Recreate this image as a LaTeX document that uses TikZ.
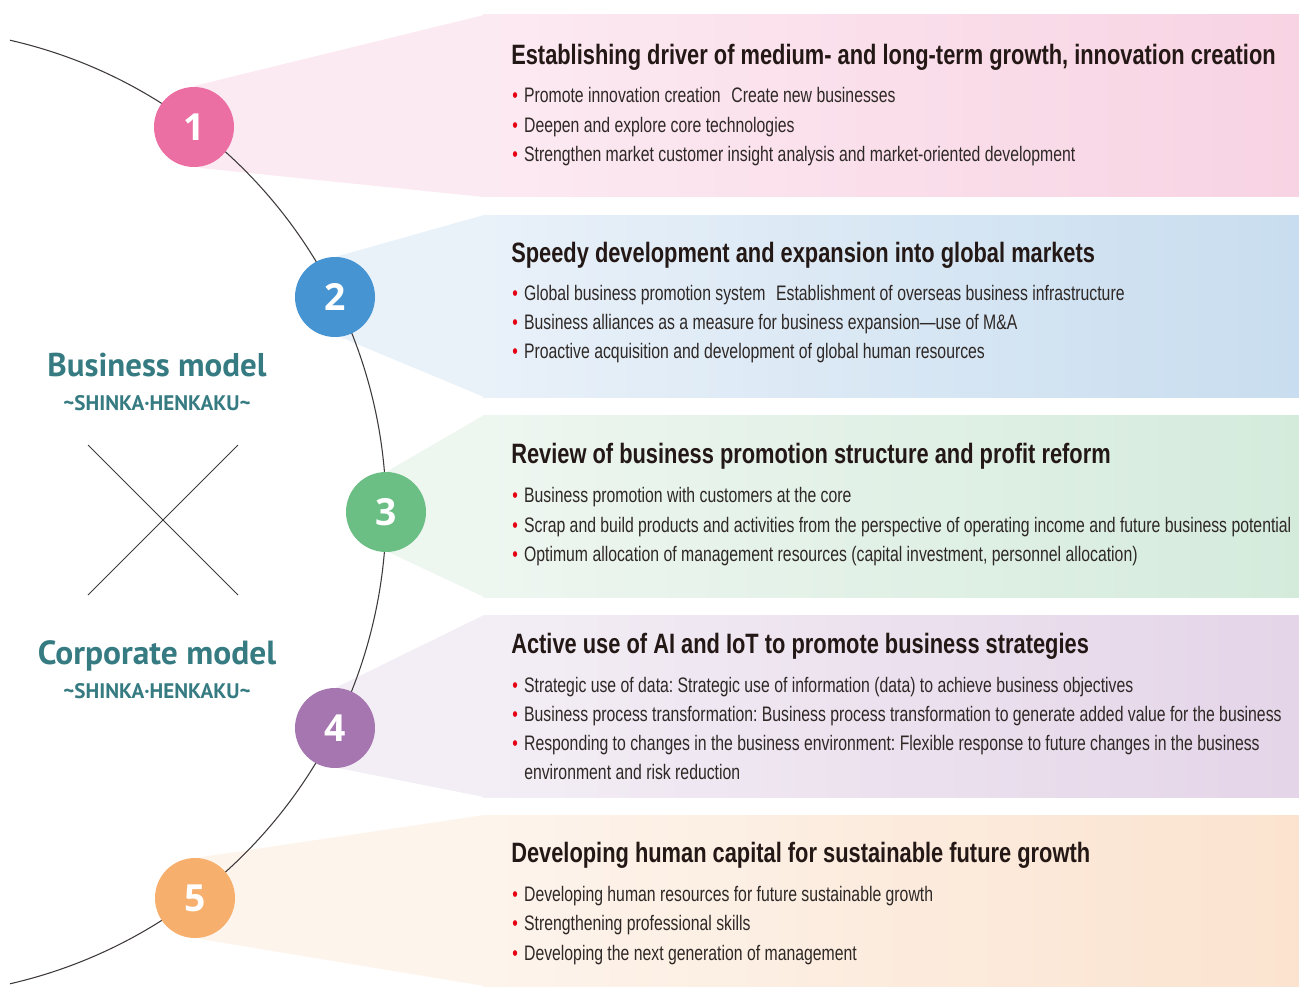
\documentclass[tikz,border=0pt]{standalone}
\usepackage{fontspec}
\setmainfont{Liberation Sans}
\newfontfamily\headfont[FakeStretch=0.78]{Liberation Sans}
\newfontfamily\bodyfont[FakeStretch=0.752]{Liberation Sans}
\newfontfamily\leftfont{PT Sans}
\newfontfamily\numfont{Open Sans}
\frenchspacing
\definecolor{inkc}{HTML}{231815}
\definecolor{bodyc}{HTML}{2E2826}
\definecolor{bulletc}{HTML}{E60012}
\definecolor{tealc}{HTML}{357B81}
\definecolor{arcc}{HTML}{3E3A39}
\definecolor{cA}{HTML}{EC6FA4}
\definecolor{cB}{HTML}{4794D3}
\definecolor{cC}{HTML}{6BBE84}
\definecolor{cD}{HTML}{A576AF}
\definecolor{cE}{HTML}{F6AF6C}
\definecolor{fAl}{HTML}{FCEAF2}\definecolor{fAr}{HTML}{F8D3E3}
\definecolor{fBl}{HTML}{E9F1F9}\definecolor{fBr}{HTML}{C8DDEF}
\definecolor{fCl}{HTML}{EEF6F0}\definecolor{fCr}{HTML}{D4EBDC}
\definecolor{fDl}{HTML}{F3EEF5}\definecolor{fDr}{HTML}{E4D5E8}
\definecolor{fEl}{HTML}{FDF4EC}\definecolor{fEr}{HTML}{FBE3CF}
\newcommand{\bul}{\textcolor{bulletc}{•}\hspace{0.3em}}
\tikzset{
  numcirc/.style={circle, minimum size=60pt, inner sep=0pt, text=white,
    font=\numfont\bfseries\fontsize{28}{28}\selectfont},
  headtxt/.style={anchor=base west, inner sep=0pt, text=inkc,
    font=\headfont\bfseries\fontsize{21}{25}\selectfont},
  bultxt/.style={anchor=base west, inner sep=0pt, text=bodyc,
    font=\bodyfont\fontsize{15.75}{19}\selectfont},
  bigleft/.style={anchor=base, inner sep=0pt, text=tealc,
    font=\leftfont\bfseries\fontsize{24.7}{30}\selectfont},
  smallleft/.style={anchor=base, inner sep=0pt, text=tealc,
    font=\leftfont\bfseries\fontsize{15.8}{18}\selectfont},
  arcline/.style={draw=arcc, line width=0.8pt},
  crossline/.style={draw=arcc, line width=0.7pt}
}
\begin{document}
\begin{tikzpicture}[x=0.75pt,y=-0.75pt]
\useasboundingbox (0,0) rectangle (1299,988);
\coordinate (p1) at (194,127);
\coordinate (p2) at (335,297);
\coordinate (p3) at (386,512);
\coordinate (p4) at (335,728);
\coordinate (p5) at (195,898);
% fans
\fill[fAl] (194,86) -- (484,15) -- (484,197) -- (200,168) -- cycle;
\shade[left color=fAl, right color=fAr] (483,15) rectangle (1299,197);
\fill[fBl] (335,257) -- (484,215) -- (484,397) -- (340,337) -- cycle;
\shade[left color=fBl, right color=fBr] (483,215) rectangle (1299,397);
\fill[fCl] (386,472) -- (484,415) -- (484,597) -- (388,552) -- cycle;
\shade[left color=fCl, right color=fCr] (483,415) rectangle (1299,597);
\fill[fDl] (335,688) -- (484,615) -- (484,797) -- (338,768) -- cycle;
\shade[left color=fDl, right color=fDr] (483,615) rectangle (1299,797);
\fill[fEl] (195,858) -- (484,815) -- (484,986) -- (200,939) -- cycle;
\shade[left color=fEl, right color=fEr] (483,815) rectangle (1299,986);
% arc
\draw[arcline] (-98,512) ++(-77.1:484) arc[start angle=-77.1, end angle=77.1, radius=484];
% numbered circles
\node[numcirc, fill=cA] (c1) at (p1) {1};
\node[numcirc, fill=cB] (c2) at (p2) {2};
\node[numcirc, fill=cC] (c3) at (p3) {3};
\node[numcirc, fill=cD] (c4) at (p4) {4};
\node[numcirc, fill=cE] (c5) at (p5) {5};
% left labels
\node[bigleft] (bm) at (157,376) {Business model};
\node[smallleft] (bms) at (157,410) {\textasciitilde SHINKA·HENKAKU\textasciitilde};
\node[bigleft, font=\leftfont\bfseries\fontsize{25.1}{30}\selectfont] (cm) at (157,664) {Corporate model};
\node[smallleft] (cms) at (157,698) {\textasciitilde SHINKA·HENKAKU\textasciitilde};
\coordinate (xa) at (88,445);
\coordinate (xb) at (238,595);
\coordinate (xc) at (238,445);
\coordinate (xd) at (88,595);
\draw[crossline] (xa) -- (xb);
\draw[crossline] (xc) -- (xd);
% block 1
\node[headtxt] (h1) at (511,65) {Establishing driver of medium- and long-term growth, innovation creation};
\node[bultxt] (b11) at (512,103) {\bul Promote innovation creation\hspace{0.3em} Create new businesses};
\node[bultxt] (b12) at (512,133) {\bul Deepen and explore core technologies};
\node[bultxt] (b13) at (512,162) {\bul Strengthen market customer insight analysis and market-oriented development};
% block 2
\node[headtxt] (h2) at (511,262) {Speedy development and expansion into global markets};
\node[bultxt] (b21) at (512,300) {\bul Global business promotion system\hspace{0.3em} Establishment of overseas business infrastructure};
\node[bultxt] (b22) at (512,329) {\bul Business alliances as a measure for business expansion—use of M\&A};
\node[bultxt] (b23) at (512,358) {\bul Proactive acquisition and development of global human resources};
% block 3
\node[headtxt] (h3) at (511,463) {Review of business promotion structure and profit reform};
\node[bultxt] (b31) at (512,502) {\bul Business promotion with customers at the core};
\node[bultxt] (b32) at (512,532) {\bul Scrap and build products and activities from the perspective of operating income and future business potential};
\node[bultxt] (b33) at (512,561) {\bul Optimum allocation of management resources (capital investment, personnel allocation)};
% block 4
\node[headtxt] (h4) at (511,653) {Active use of AI and IoT to promote business strategies};
\node[bultxt] (b41) at (512,692) {\bul Strategic use of data: Strategic use of information (data) to achieve business objectives};
\node[bultxt] (b42) at (512,721) {\bul Business process transformation: Business process transformation to generate added value for the business};
\node[bultxt] (b43) at (512,750) {\bul Responding to changes in the business environment: Flexible response to future changes in the business};
\node[bultxt] (b44) at (524,779) {environment and risk reduction};
% block 5
\node[headtxt] (h5) at (511,862) {Developing human capital for sustainable future growth};
\node[bultxt] (b51) at (512,901) {\bul Developing human resources for future sustainable growth};
\node[bultxt] (b52) at (512,930) {\bul Strengthening professional skills};
\node[bultxt] (b53) at (512,960) {\bul Developing the next generation of management};
\end{tikzpicture}
\end{document}
